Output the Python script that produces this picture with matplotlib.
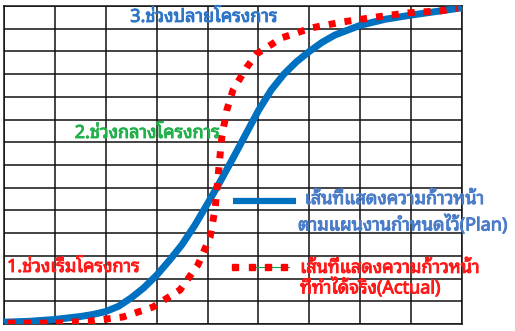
import matplotlib
matplotlib.use("Agg")
import matplotlib.pyplot as plt
import matplotlib.patheffects as pe
import numpy as np

plt.rcParams["font.family"] = ["Noto Sans Thai Looped", "DejaVu Sans"]

# planned progress (S-curve) and actual progress, in grid units
plan_x = [0.0, 0.5, 1.0, 1.5, 1.75, 2.0, 2.25, 2.5, 2.75, 3.0, 3.25, 3.5, 3.75,
          4.0, 4.25, 4.5, 4.75, 5.0, 5.25, 5.5, 5.75, 6.0, 6.25, 6.5, 7.0, 7.5,
          8.0, 8.5, 9.0]
plan_y = [0.08, 0.12, 0.2, 0.33, 0.42, 0.55, 0.78, 1.15, 1.6, 2.15, 2.8, 3.5, 4.35,
          5.3, 6.28, 7.3, 8.35, 9.4, 10.3, 11.0, 11.55, 12.0, 12.4, 12.72, 13.15, 13.42,
          13.6, 13.76, 13.92]

actual_x = [0.08, 1.04, 1.69, 2.34, 2.93, 3.46, 3.81, 4.05, 4.15, 4.2, 4.28,
            4.38, 4.5, 4.77, 4.97, 5.46, 6.05, 6.66, 7.33, 7.94, 8.6, 8.92]
actual_y = [0.04, 0.04, 0.13, 0.31, 0.75, 1.5, 2.6, 3.83, 5.1, 6.34, 8.24,
            9.43, 10.3, 11.3, 11.9, 12.6, 13.04, 13.3, 13.52, 13.7, 13.79, 13.92]

n_cols, n_rows = 9, 14

phase_labels = ["1.ช่วงเริ่มโครงการ", "2.ช่วงกลางโครงการ", "3.ช่วงปลายโครงการ"]
plan_label = ["เส้นที่แสดงความก้าวหน้า", "ตามแผนงานกำหนดไว้(Plan)"]
actual_label = ["เส้นที่แสดงความก้าวหน้า", "ที่ทำได้จริง(Actual)"]

blue = "#0070C0"
red = "#FF0000"
green = "#00B050"

fig = plt.figure(figsize=(5.15, 3.31), dpi=100)
ax = fig.add_axes([4 / 515, 7 / 331, 458 / 515, 318 / 331])
ax.set_xlim(0, n_cols)
ax.set_ylim(0, n_rows)
ax.set_xticks(np.arange(n_cols + 1))
ax.set_yticks(np.arange(n_rows + 1))
ax.tick_params(length=0, labelbottom=False, labelleft=False)
ax.grid(True, color="#111111", linewidth=1.1)
for s in ax.spines.values():
    s.set_color("#111111")
    s.set_linewidth(1.1)

ax.plot(plan_x, plan_y, color=blue, linewidth=5, solid_capstyle="butt",
        solid_joinstyle="round", zorder=3)
ax.plot(actual_x, actual_y, color=red, linewidth=5, dashes=(1, 1.3),
        dash_capstyle="butt", zorder=4)

# legend marks
ax.plot([4.5, 5.74], [5.42, 5.42], color=blue, linewidth=4.5, solid_capstyle="butt",
        zorder=3)
ax.plot([4.85, 5.6], [2.51, 2.51], color=green, linewidth=0.8, zorder=3)
ax.plot([4.54, 4.87, 5.19, 5.5], [2.51, 2.51, 2.51, 2.51], "s", color=red,
        markersize=5, linestyle="none", zorder=4)


def label(x, y, s, color):
    ax.text(x, y, s, color=color, fontsize=13, va="center", ha="left", zorder=5,
            path_effects=[pe.withStroke(linewidth=0.7, foreground=color)])


label(0.06, 2.51, phase_labels[0], "#FF1A1A")
label(1.39, 8.41, phase_labels[1], "#22B04B")
label(2.48, 13.52, phase_labels[2], "#2E75C8")

label(5.91, 5.5, plan_label[0], "#4A7CC8")
label(5.78, 4.36, plan_label[1], "#4A7CC8")
label(5.82, 2.47, actual_label[0], "#FF1A1A")
label(5.82, 1.59, actual_label[1], "#FF1A1A")

fig.savefig("out.png", dpi=100)
